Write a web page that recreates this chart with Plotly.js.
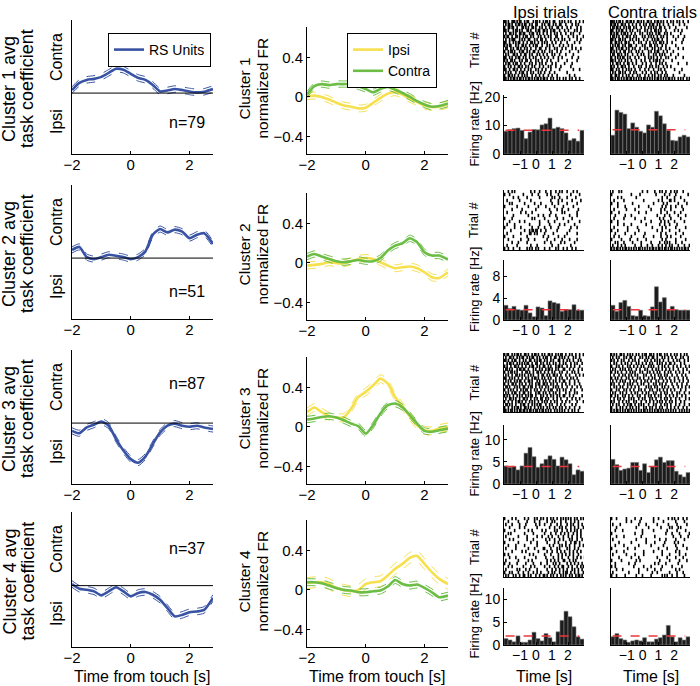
<!DOCTYPE html>
<html>
<head>
<meta charset="utf-8">
<script src="https://cdn.plot.ly/plotly-3.0.1.min.js"></script>
<style>
  html, body { margin: 0; padding: 0; background: #fff; }
  #chart { width: 700px; height: 686px; }
</style>
</head>
<body>
<div id="chart"></div>
<script>
// time axis for the population curves
const time = [-2, -1.75, -1.5, -1.25, -1, -0.75, -0.5, -0.25, 0, 0.25, 0.5, 0.75, 1, 1.25, 1.5, 1.75, 2, 2.25, 2.5, 2.8];

// avg task coefficient (RS units), clusters 1-4
const coef1 = [0.03, 0.10, 0.13, 0.14, 0.16, 0.20, 0.24, 0.23, 0.19, 0.15, 0.13, 0.08, 0.016, 0.026, 0.04, 0.03, 0.016, 0.007, 0.013, 0.04];
const coef2 = [0.08, 0.11, 0.01, -0.01, 0.01, 0.033, 0.023, 0.01, -0.01, 0.01, 0.066, 0.23, 0.286, 0.253, 0.28, 0.26, 0.197, 0.23, 0.245, 0.14];
const coef3 = [-0.076, -0.10, -0.043, -0.016, 0.016, -0.026, -0.158, -0.27, -0.355, -0.39, -0.33, -0.207, -0.092, -0.026, -0.005, -0.026, -0.036, -0.026, -0.043, -0.059];
const coef4 = [0.016, -0.03, -0.04, -0.056, -0.095, -0.056, -0.016, -0.056, -0.105, -0.072, -0.062, -0.089, -0.138, -0.22, -0.30, -0.286, -0.26, -0.253, -0.237, -0.12];
const coefSem = [0.032, 0.03, 0.03, 0.032];
const nUnits = [79, 51, 87, 37];

// normalized firing rate, ipsi / contra trials
const ipsiFR1 = [0.007, 0.013, 0, -0.027, -0.06, -0.087, -0.10, -0.117, -0.11, -0.06, -0.01, 0.033, 0.047, 0.023, -0.02, -0.053, -0.087, -0.103, -0.10, -0.077];
const contraFR1 = [0.023, 0.11, 0.13, 0.12, 0.13, 0.13, 0.13, 0.107, 0.08, 0.047, 0.08, 0.10, 0.073, 0.04, 0, -0.043, -0.077, -0.10, -0.093, -0.067];
const ipsiFR2 = [-0.027, -0.02, -0.01, 0.007, -0.003, -0.003, 0.017, 0.04, 0.05, 0.04, 0.007, -0.027, -0.054, -0.044, -0.037, -0.054, -0.095, -0.146, -0.153, -0.095];
const contraFR2 = [0.064, 0.09, 0.064, 0.04, 0.017, 0.007, 0.017, 0.03, 0.017, 0.017, 0.05, 0.125, 0.176, 0.2, 0.25, 0.21, 0.108, 0.075, 0.075, 0.034];
const ipsiFR3 = [0.15, 0.197, 0.15, 0.108, 0.095, 0.095, 0.186, 0.305, 0.356, 0.42, 0.49, 0.44, 0.305, 0.21, 0.108, 0.017, -0.034, -0.04, -0.017, 0];
const contraFR3 = [0.075, 0.085, 0.1, 0.108, 0.095, 0.068, 0.034, 0.007, -0.068, 0.017, 0.136, 0.22, 0.237, 0.2, 0.119, 0.034, -0.04, -0.05, -0.034, -0.017];
const ipsiFR4 = [0.068, 0.078, 0.078, 0.06, 0.02, 0, -0.014, 0, 0.06, 0.078, 0.088, 0.146, 0.214, 0.264, 0.325, 0.345, 0.264, 0.18, 0.112, 0.06];
const contraFR4 = [0.078, 0.078, 0.068, 0.044, 0.02, 0, -0.007, -0.024, -0.024, -0.014, -0.007, 0.034, 0.1, 0.06, 0.044, 0.054, 0.02, -0.024, -0.075, -0.058];
const ipsiSem = [0.035, 0.035, 0.04, 0.055];
const contraSem = [0.032, 0.032, 0.032, 0.035];

// example-unit PSTHs (0.25 s bins)
const histBins = [-1.875, -1.625, -1.375, -1.125, -0.875, -0.625, -0.375, -0.125, 0.125, 0.375, 0.625, 0.875, 1.125, 1.375, 1.625, 1.875, 2.125, 2.375, 2.625, 2.875];
const ipsiHist1 = [8.0, 8.5, 8.9, 9.1, 8.3, 5.4, 7.7, 8.6, 8.5, 10.2, 10.6, 12.6, 8.9, 9.4, 8.9, 7.4, 4.8, 5.4, 4.5, 8.3];
const contraHist1 = [6.6, 15.4, 14.6, 14.0, 8.9, 10.9, 9.4, 8.0, 7.4, 10.2, 9.4, 15.0, 13.4, 10.6, 8.3, 4.8, 4.6, 6.0, 6.6, 6.0];
const ipsiHist2 = [2.7, 2.1, 2.5, 1.9, 1.8, 2.7, 1.3, 0.6, 2.4, 2.2, 0.8, 3.5, 3.2, 3.0, 1.6, 1.9, 1.9, 2.8, 1.8, 1.8];
const contraHist2 = [2.7, 1.6, 3.2, 3.6, 2.5, 0.8, 0.7, 1.8, 0.8, 0.7, 2.4, 6.1, 3.3, 4.1, 1.9, 2.5, 1.9, 1.8, 1.8, 1.8];
const ipsiHist3 = [4.1, 3.8, 4.0, 3.2, 4.1, 7.0, 8.3, 6.2, 3.8, 4.6, 5.6, 6.4, 5.6, 4.1, 6.1, 5.5, 4.6, 2.1, 3.2, 2.9];
const contraHist3 = [5.6, 4.4, 3.1, 3.4, 3.6, 4.9, 4.9, 3.1, 4.6, 2.6, 4.0, 5.5, 6.1, 4.9, 5.3, 5.3, 2.9, 2.1, 1.6, 2.6];
const ipsiHist4 = [1.4, 1.1, 0.7, 2.0, 0.6, 0.6, 1.1, 2.8, 1.4, 0.9, 2.5, 1.6, 0.7, 2.9, 5.4, 7.4, 6.2, 4.0, 1.8, 1.3];
const contraHist4 = [1.8, 2.5, 1.4, 1.1, 0.6, 0.9, 1.1, 0.9, 1.6, 0.7, 0.7, 1.3, 1.6, 2.2, 4.3, 1.8, 0.7, 1.6, 1.1, 1.8];
const ipsiBase = [8.3, 1.9, 4.0, 2.0];
const contraBase = [8.5, 1.9, 4.0, 2.0];
const baseSpan = [-1.9, 2.7];
const histYMax = [20.7, 11, 13.4, 12.5];
const histYTicks = [[0, 10, 20], [0, 4, 8], [0, 5, 10], [0, 5, 10]];

// spike rasters: one string per trial, 'x' = spike in a 5/64 s bin starting at -2 s
const rasterIpsi1 = [
  "xx.x..xxx.x.xx..x.xx...x.xx.x..x.xx.x..xx...x.x.x..x.x...x..x..x",
  ".x.xx.x..x.xx.x.xx..x.x..xx...x.x..xx..x.x..xx...x....x..x.x....",
  "x..xx.xx..x...xx.x.x..xx.x..x.x..x..x.x...xx..x...x..x....x..x..",
  "xx.x...x.xx.x.x...xx.x...x.xx..xx.x..x.xx...x...x..x....x.x..x..",
  ".x..xx.x.x..xx.xx...x.xx..x.x..x..x..x..x.x..x...x...x.x....x...",
  "x.xx..x..xx.x..x.xx..x.x...x.x..x..x.x...xx...x....x...x..x....x",
  ".x..x.xxx...x.x.x..xx...x.x..xx..x...x..x..x..x.x...x.....x..x..",
  "xx..x..x.x.xx..x..x..xx.x..x..x.x.x...x..x...x....x.....x...x...",
  "x.x.xx...x.x..xx.x..x..x.xx...x...x.x..x....x..x...x..x.........",
  ".xx..x.x..xx.x..x.x..x...x..xx...x..x...x.x...x..x....x..x...x..",
  "x..x.xx.x...x.xx..x.x..xx..x..x.x...x.x...x..x......x......x....",
  ".x.x...xx.x..x..xx..x.x...x.x..x..x...x.x...x....x.....x........",
  "xx..x.x..x.xx..x.x..x..x.x...x..x..x...x...x..x.......x....x....",
  "x.x..xx.x...x.x..xx..x...x.x..x...x..x.....x......x.......x.....",
  ".x.xx..x.xx..x..x...x.x..x..x.x..x....x..x......x.....x.........",
  "x..x.x..x..xx.x..x.x..x.x...x..x...x.x...x...x.......x..........",
  "xx..x..xx.x..x..x..x.x...x.x..x..x...x......x..........x....x...",
  ".x.x.x...x..x.xx..x..x.x...x.x..x...x...x.........x.............",
  "x..xx.x.x..x..x.x.x...x..x..x..x...x..x...x.........x...x.......",
  "xx.x.x.xx.x.xx.x.x.xx.x.x.xx.x.xx.x..x.x..x.x..x.x..x.x..x..x..."
];
const rasterContra1 = [
  "xxx.x.xx.x..xx.xx.x..xx.x.x..xx.x..x.xx.x.x..x..x.x..x.x..x...x.",
  "x.xx.x..xx.x..x..x..x..x..x.x..x.xx..x.x..x...x...x....x...x....",
  ".xx.xx.x..x.x.xx..x.x...x..x..x.x.x.x..xx..x...x....x........x..",
  "xx..x.x.xx..x..x.x...x.x...x.x..x..xx.x.x...x......x..x..x......",
  "x.x.xx..x.xx.x..x..x...x.x...x.x.x..x.xx...x.x..x.......x.......",
  ".xx.x.x..x..xx.x..x.x....x.x..x.x.x..x..x.x..x....x...x....x....",
  "xx.x..xx.x.x...x.x..x.x...x..x...x.x.xx..x...x......x.....x.....",
  "x..xx.x.x..xx.x...x...x.x...x..x..x.x..xx.x..x...x.......x......",
  ".x.x.xx..x.x..xxx...x....x.x...xx..x.x...x..x.......x...........",
  "xx..x.x.xx..x.x..x.x...x...x.x...x.x..x.x...x..x......x...x.....",
  "x.x.x..x..xx..x.x...x.x..x....x.x..x.xx...x..x....x.............",
  ".xx..xx.x..x.x...x...x..x.x...x...x.x..x.x.x....x.....x.........",
  "x..x.x.x.xx..x.x...x..x....x..x.x.x..x..x...x.x.....x.....x.....",
  "xx.x..x.x..x.x..x...x...x..x...x..x.xx.x..x......x..............",
  ".x..xx.x..x..xx..x..x....x..x...x...x..x.x..x.........x......x..",
  "x.x..x..xx.x..x...x...x.x...x..x.x..x.x...x..x..x...............",
  "xx..x.x..x..x.x.x..x...x...x..x...x...x.x..x.......x.....x......",
  ".x.x..xx.x.x...x..x.x....x..x...x..x.x...x..x..........x........",
  "x..xx.x..x..x.x..x...x.x...x..x..x.x..x.x..x.x....x........x....",
  "xx.x.xx.x.x.xx.xx.x.x.x.x.xx.x.x.x.x.xx.x.x.x.xx.x.x..x.x.x..x.x"
];
const rasterIpsi2 = [
  "...x..x.x............x..x...x....x...x...x..x.x...x....x..x.....",
  "x...x..........x......x....x......x..x.....x.........x......x...",
  ".......x...x......x.........x.........x.x...x.....x......x......",
  "..x.........x........x...............x.....x..x.......x......x..",
  "....x.x.........x.......x....x........x....x......x.......x.....",
  "x.........x........x.......x.....x......x......x.......x........",
  "......x.......x..........x..........x.....x...x....x.......x....",
  "..x..........x...x....x..............x........x.x.........x.....",
  ".......x...........x.......x...x....x....x..........x.....x.....",
  "x.....x...............x.x.......x.........x....x......x.........",
  "....x.......x...x...........x......x....x..........x........x...",
  "..x.....x...........x.......x.......x.......x...x.......x.......",
  "x.......x....x........x....x....x....x.....x.........x....x.....",
  ".....x..........x...x.xx.xx..x...x........x.........x...........",
  "..x..........x......xx..x.x.....x......x..........x.......x.....",
  "x......x..........x............x...x.......x....x...............",
  "...x.........x.....x....x.........x.....x.....x.....x.....x.....",
  "......x....x......x.............x....x.......x..x.......x.......",
  "..x.......x..........x....x...........x....x.........x..........",
  "x..x...x....x.....x.x.x..x.x....x...x....x.x...x..x...x..x......"
];
const rasterContra2 = [
  ".x....x.x................x...x.....x...x.x..x...x..x.x....x.....",
  "x...............x......x............x......x...x....x.........x.",
  ".....x..x...........x....................x...x.....x....x.......",
  "..x.......x...............x...........x..x.....xx..x.......x....",
  "x....x...........x................x.......x..x........x......x..",
  ".....x.....x..........x.......x..........x..x...x...x....x......",
  "..x.........x......x............x.......x..x....x.........x.....",
  "x.....x...............x.....x...........x....x.....x....x.......",
  "...x.......x....x....................x.....x...x......x.....x...",
  "..x.......x........x.......x...........x..x.....x.......x.......",
  "x....x..................x.......x.......x..x..x....x.......x....",
  ".....x....x.....x...........x..........x...x...x.....x..........",
  "..x..........x.......x...........x.......x..x.......x.......x...",
  "x....x.......x........x..............x...x.....x.......x........",
  "...x.......x.......x.......x............x...x.......x.....x.....",
  "..x...x.........x.........x.......x.....x....x..x.......x.......",
  "x.......x......x.....x......x............x..x.......x.......x...",
  "...x.x....x......x......x.......x......x...x.x.x....x....x......",
  ".x...x..x..x.......x....x....x...x....x..x..x..x.x....x....x...x",
  "x.x.xx.x.x.xx.x.x.x.x.xx.x.x.x.x.xx.x.xx.x.xx.x.xx.x.x.x.x.xx.x."
];
const rasterIpsi3 = [
  "x.xx..x.x.xx.x..xx.x..x.xx.x..x.x..xx.x..x.x.xx..x..x.x..x..x..x",
  ".x..xx.x..x.x.xx..x.x.xx..x.x..x.xx..x..xx..x.x.x..x...x.x..x...",
  "xx.x..x.xx..x..x.x..xx..x.x.xx..x.x..x.x...xx..x..x.x..x...x.x..",
  "..x.xx.x..x.x.x.x.xx..x..xx..x.x..x.x..x.x..x..x.x...x..x.x...x.",
  "x.x..x..xx.x..x..x..x.xx..x.x..xx..x.x...x.xx.x...x..x..x...x...",
  ".xx.x.x...x.xx.xx..x...x.x..x.x..x.xx.x..x.x...xx...x..x...x..x.",
  "x..x.xx.x.x...x..xx.x..x..xx.x..x..x..x.x...x.x...x...x.x..x....",
  ".x.x..x..xx.x.x.x..x.x.x...x..xx..x.x..xx.x..x...x..x....x..x..x",
  "xx..x.x.x..x..x..x.x..x.xx.x..x.x..x.x...x..x.x...x..x.x..x.....",
  ".x.x.x..x.x.xx..x..xx.x...x.x..x.x..x..x.x..x..xx...x...x..x....",
  "x..x..xx.x..x.x..x..x.x..x.xx..xx.x..x.x..x...x..x..x...x...x...",
  ".xx.x...x.x.x..xx..x.xx..x..x.x..x.x...x.x.x..x...x...x...x..x..",
  "x..x.x.x..x..x.x.xx..x..x.x..x..x..x.xx...x.x..x.x...x..x.....x.",
  ".x.x..x.xx..x..xx..x.x...x.xx..x.x..x..x.x..x....x..x...x.x.....",
  "x.x.x..x..x.x.x..x.x.xx..x...x.x..x..x.x..x.x..xx...x..x......x.",
  ".x..xx.x.x..x..xx.x..x..x.x..xx..x.x...x..x..x....x...x..x..x...",
  "x..x..x..x.xx.x..x..x.x.x..x..x.x.x..x..x.x...x..x..x.....x....x",
  ".xx.x.x..x...x.xx..x..x.x.x.xx...x..x.x...x..x..x.....x..x......",
  "x..x..x.x.xx.x..xx.x.x..x..x.x.x..x.x..x.x..x.x..x..x...x...x...",
  "xx.x.xx.x.x.xx.xx.x.xx.x.xx.x.xx.x.x.x..x.x.x.x.x..x..x.x..x...."
];
const rasterContra3 = [
  "x.x.x..xx.x..x.x.x..x.x..x.xx..xx.x..x.xx..x.x..x..x.x..x..x.x..",
  ".x..x.x...x.x..xx..x...x.x..x.x..xx..x...x.x..x..x..x...x.x...x.",
  "x.x..x..x.x...x..x.x..x....x.x..x..x.x.x..x...x...x..x.x...x..x.",
  "..x.x...x..x.x..x...x.x..x..x..x.x...x.x.x..x..xx..x....x..x....",
  "x...x.x..x...x.x..x..x..x.x...x.x.x...x..x.x..x...x..x..x...x..x",
  ".x.x...x.x.x..x.x...x..x...x.x...x..x.x..x..x..x..x...x...x..x..",
  "x..x.x..x...x..x.x.x...x.x...x.x..x..x.x...x..x.x...x..x..x....x",
  "..x...x..x.x..x.x..x.x....x.x...x..x..x.x..x.x...x...x...x..x...",
  "x..x.x..x...x.x..x...x.x..x...x..x.x...x.x..x..x...x..x...x..x..",
  ".x..x..x.x.x...x..x.x...x..x.x..x...x.x...x..x..x..x...x..x...x.",
  "x.x...x...x..x.x.x...x..x.x...x...x.x..x.x..x....x...x...x...x..",
  "..x.x..x.x...x..x..x..x.....x.x.x..x.x...x.x..x...x...x..x..x..x",
  "x...x.x...x.x..x..x...x.x..x...x.x...x.x..x..x..x..x....x...x...",
  ".x.x...x.x..x...x..x.x...x..x.x...x.x...x..x.x...x...x.x...x...x",
  "x..x.x...x.x..x..x...x.x...x..x.x..x..x.x...x..x..x..x...x..x...",
  "..x..x.x..x...x.x.x...x..x.x...x.x..x...x..x.x..x...x..x....x..x",
  "x.x...x..x..x.x...x.x...x...x..x..x..x.x.x..x..x.x..x...x..x....",
  ".x..x.x...x..x.xx..x..x.x.x...x...x.x...x..x.x..x...x..x...x...x",
  "x...x..x.x..x..x.x..x.x...x.x..x.x..x..x.x...x..x..x..x...x..x..",
  "x.x.xx.x.x.x.xx.x.x.x.x.x.xx.x.x.x.x.xx.x.x.x.x.x.x.x..x.x.x.x.x"
];
const rasterIpsi4 = [
  "x.....x..x......x..x....x.x..x.x..x..x.x..x..x.x.x.x.x..x.x..x.x",
  "...x.......x......x.....x...x.....x...x.x....x...x...x..x..x....",
  ".x....x.....x....x.......x..x...x....x....x..x....x..x.x...x..x.",
  "....x.......x...x.........x.........x...x...x.x..x...x..x..x...x",
  "x.......x..........x..x.......x..x......x.x...x...x..x..x.x..x..",
  "...x.x..........x......x........x....x...x...x..x..x...x..x..x..",
  ".x.........x......x.......x...x....x..x....x...x...x..x...x..x...",
  "....x..x..........x....x.........x..x...x...x..x....x.x...x...x..",
  "x..........x.........x....x.......x.....x..x.....x...x..xx..x....",
  "...x.....x......x.........x.........x..x....x.x..x..x...x...x..x",
  ".x.......x.........x....x......xx....x....x.x.....x.x...x..x....",
  "......x.......x..x.........x......x...x...x..x..x...x..x..x..x..",
  "x..x................x..x........x....x.....x..x..x..x..x...x....",
  "....x....x......x........x.......x.....x...x..x....x...x..x..x..x",
  ".x.........x.......x..x...........x..x..x..x...xx...x..x.x......",
  "x...x.....x......x.....x.....x....x....x.x..x.....x..x..x..x..x..",
  "...x..x........x.....x..x.......x...x...x..x..xx...x..x...x..x.x",
  ".x........x.x....x..x.....x.......x...x..x..x..x..x...x.x..x..x..",
  "x...x.x....x...x...x...x..x..x.....x..x.x...x..x.xx..x..x..x...x..",
  ".x.x...x.x..x..xx..x.x...x..x..xx.x..x.x..x..x.x.x..x.x..x.xx.x."
];
const rasterContra4 = [
  "x...x.......x......x....x.........x...x.......x..x.x..x...x..x..",
  "............x...x......x..........x.......x.........x......x....",
  ".x.....x..............x.....x........x........x......x.......x..",
  "....x...............x.........x.........x......x.x....x.x.......",
  "...x.....x...............x........x..........x.......x......x...",
  "x..................x.....x..................x....x.....x.......x",
  "....x.....x.............x..........x..............x.....x.....x.",
  ".x..................x.......x..........x....x.......x......x....",
  "......x.........x...........x......x.......x.......x..x.........",
  "...x......x...........x.........x.........x.........x.....x.....",
  "x............x.....x..................x......x.......x.......x..",
  "....x.....x...............x.......x......x..........x..x........",
  ".x..........x......x......x..............x.....x.......x....x...",
  "......x.........x.....x..............x.......x......x.....x.....",
  "x.......x...........x..x...............x.......x.......x.....x..",
  "...x..........x....x...............x..x.....x.........x.........",
  "x..x..............x.......x.....x........x.......x.......x......",
  "....x....x............x......x.....x....x...........x..x........",
  ".x............x.......x..........x...x.........x.....x....x.....",
  "x...x......x........x....x......x........x.x.x...x...x.....x....."
];

const coefs = [coef1, coef2, coef3, coef4];
const ipsiFR = [ipsiFR1, ipsiFR2, ipsiFR3, ipsiFR4];
const contraFR = [contraFR1, contraFR2, contraFR3, contraFR4];
const ipsiHists = [ipsiHist1, ipsiHist2, ipsiHist3, ipsiHist4];
const contraHists = [contraHist1, contraHist2, contraHist3, contraHist4];
const ipsiRasters = [rasterIpsi1, rasterIpsi2, rasterIpsi3, rasterIpsi4];
const contraRasters = [rasterContra1, rasterContra2, rasterContra3, rasterContra4];

const W = 700, H = 686;
const FONT = 'Liberation Sans, Arial, sans-serif';
const BLUE = '#3953a4', YELLOW = '#f6e04e', GREEN = '#6bbd45';

// pixel boxes of the panels
const leftX = [72, 213], midX = [307, 448], ipsiX = [504, 584], contraX = [611, 690];
const leftRows = [[20, 154], [185, 319], [350, 484], [512, 647]];
const midRows = [[27, 154], [193, 320], [357, 484], [520, 647]];
const rasterRows = [[20, 80], [190, 250], [353, 412], [517, 577]];
const histRows = [[95, 154], [260, 320], [425, 484], [588, 645]];

const layout = {
  width: W, height: H,
  margin: { l: 0, r: 0, t: 0, b: 0 },
  paper_bgcolor: 'white', plot_bgcolor: 'white',
  font: { family: FONT, color: 'black', size: 14 },
  showlegend: true,
  bargap: 0,
  shapes: [], annotations: [],
  legend: {
    x: 108 / W, y: 1 - 33 / H, xanchor: 'left', yanchor: 'top',
    bgcolor: 'white', bordercolor: 'black', borderwidth: 1,
    font: { size: 14 }, itemwidth: 30
  },
  legend2: {
    x: 347 / W, y: 1 - 33 / H, xanchor: 'left', yanchor: 'top',
    bgcolor: 'white', bordercolor: 'black', borderwidth: 1,
    font: { size: 14 }, itemwidth: 30, tracegroupgap: 0
  }
};
const traces = [];

let axN = 0;
function addAxes(xpx, ypx, xopt, yopt) {
  axN++;
  const s = axN === 1 ? '' : String(axN);
  const base = {
    showgrid: false, zeroline: false, showline: true, linecolor: 'black', linewidth: 1,
    ticks: 'inside', ticklen: 3, tickcolor: 'black', fixedrange: true
  };
  layout['xaxis' + s] = Object.assign({}, base, {
    domain: [xpx[0] / W, xpx[1] / W], anchor: 'y' + s
  }, xopt);
  layout['yaxis' + s] = Object.assign({}, base, {
    domain: [1 - ypx[1] / H, 1 - ypx[0] / H], anchor: 'x' + s
  }, yopt);
  return { x: 'x' + s, y: 'y' + s };
}

function note(text, px, py, size, angle) {
  layout.annotations.push({
    text: text, x: px / W, y: 1 - py / H, xref: 'paper', yref: 'paper',
    xanchor: 'center', yanchor: 'middle', showarrow: false,
    textangle: angle || 0, font: { size: size, family: FONT, color: 'black' }
  });
}

function band(ax, ys, sem, color, name, legend, show) {
  const up = ys.map(v => v + sem), lo = ys.map(v => v - sem);
  [up, lo].forEach(arr => traces.push({
    x: time, y: arr, xaxis: ax.x, yaxis: ax.y, type: 'scatter', mode: 'lines',
    line: { color: color, width: 1, dash: 'dash', shape: 'spline', smoothing: 0.6 },
    showlegend: false, hoverinfo: 'skip'
  }));
  traces.push({
    x: time, y: ys, xaxis: ax.x, yaxis: ax.y, type: 'scatter', mode: 'lines',
    line: { color: color, width: 2.6, shape: 'spline', smoothing: 0.6 },
    name: name, legend: legend, showlegend: show
  });
}

function raster(ax, rows) {
  const xs = [], ys = [];
  rows.forEach((row, r) => {
    for (let c = 0; c < row.length; c++) {
      if (row[c] === 'x') { xs.push(-2 + (c + 0.5) * 5 / 64); ys.push(rows.length - r); }
    }
  });
  traces.push({
    x: xs, y: ys, xaxis: ax.x, yaxis: ax.y, type: 'scatter', mode: 'markers',
    marker: { symbol: 'line-ns-open', size: 2.4, color: 'black', line: { width: 1.6, color: 'black' } },
    showlegend: false, hoverinfo: 'skip', cliponaxis: true
  });
}

function psth(ax, vals, base) {
  traces.push({
    x: histBins, y: vals, xaxis: ax.x, yaxis: ax.y, type: 'bar', width: 0.25,
    marker: { color: '#1c1c1c', line: { color: '#808080', width: 0.6 } },
    showlegend: false, hoverinfo: 'skip'
  });
  traces.push({
    x: baseSpan, y: [base, base], xaxis: ax.x, yaxis: ax.y, type: 'scatter', mode: 'lines',
    line: { color: '#e8383d', width: 1.5, dash: 'dash' }, showlegend: false, hoverinfo: 'skip'
  });
}

const curveX = { range: [-2, 2.8], tickvals: [-2, 0, 2], tickfont: { size: 15 }, ticklabelstandoff: -3 };
const rasterAx = { range: [-2, 3], showticklabels: false, ticks: '' };

for (let i = 0; i < 4; i++) {
  // left: task coefficient
  const la = addAxes(leftX, leftRows[i], curveX,
    { range: [-0.6, 0.72], showticklabels: false, ticks: '' });
  layout.shapes.push({
    type: 'line', xref: la.x + ' domain', yref: la.y, x0: 0, x1: 1, y0: 0, y1: 0,
    line: { color: 'black', width: 1 }
  });
  band(la, coefs[i], coefSem[i], BLUE, 'RS Units', 'legend', i === 0);
  const lt = leftRows[i][0], lc = (leftRows[i][0] + leftRows[i][1]) / 2 + 2;
  note('Cluster ' + (i + 1) + ' avg', 9, lc, 18, -90);
  note('task coefficient', 27, lc, 18, -90);
  note('Contra', 56, lt + 37, 16, -90);
  note('Ipsi', 56, lt + 102, 16, -90);

  // middle: normalized FR
  const ma = addAxes(midX, midRows[i], curveX,
    { range: [-0.58, 0.71], tickvals: [-0.4, 0, 0.4], tickfont: { size: 15 } });
  band(ma, ipsiFR[i], ipsiSem[i], YELLOW, 'Ipsi', 'legend2', i === 0);
  band(ma, contraFR[i], contraSem[i], GREEN, 'Contra', 'legend2', i === 0);
  const mc = (midRows[i][0] + midRows[i][1]) / 2 - 2;
  note('Cluster ' + (i + 1), 244, mc, 15.5, -90);
  note('normalized FR', 262, mc, 15.5, -90);

  // right: rasters + PSTHs
  const ri = addAxes(ipsiX, rasterRows[i], rasterAx, { range: [0.5, 20.5], showticklabels: false, ticks: '' });
  raster(ri, ipsiRasters[i]);
  const rc = addAxes(contraX, rasterRows[i], rasterAx, { range: [0.5, 20.5], showticklabels: false, ticks: '' });
  raster(rc, contraRasters[i]);
  const histX = { range: [-2, 3], tickvals: [-1, 0, 1, 2], tickangle: 0, tickfont: { size: 14 }, ticklabelstandoff: -3 };
  const histY = { range: [0, histYMax[i]], tickvals: histYTicks[i], tickfont: { size: 14 } };
  const hi = addAxes(ipsiX, histRows[i], histX, histY);
  psth(hi, ipsiHists[i], ipsiBase[i]);
  const hc = addAxes(contraX, histRows[i], histX, Object.assign({}, histY, { showticklabels: false, ticks: '' }));
  psth(hc, contraHists[i], contraBase[i]);
  note('Trial #', 474, (rasterRows[i][0] + rasterRows[i][1]) / 2, 13, -90);
  note('Firing rate [Hz]', 474, (histRows[i][0] + histRows[i][1]) / 2, 13, -90);
}

// n labels
const nPos = [122, 292, 383, 548];
nUnits.forEach((n, i) => note('n=' + n, 187, nPos[i], 16, 0));

note('Ipsi trials', 545, 12, 16.5, 0);
note('Contra trials', 652, 12, 16.5, 0);
note('Time from touch [s]', 142, 676, 16, 0);
note('Time from touch [s]', 377, 676, 16, 0);
note('Time [s]', 544, 676, 16, 0);
note('Time [s]', 651, 676, 16, 0);

Plotly.newPlot('chart', traces, layout, { staticPlot: true, displayModeBar: false });
</script>
</body>
</html>
